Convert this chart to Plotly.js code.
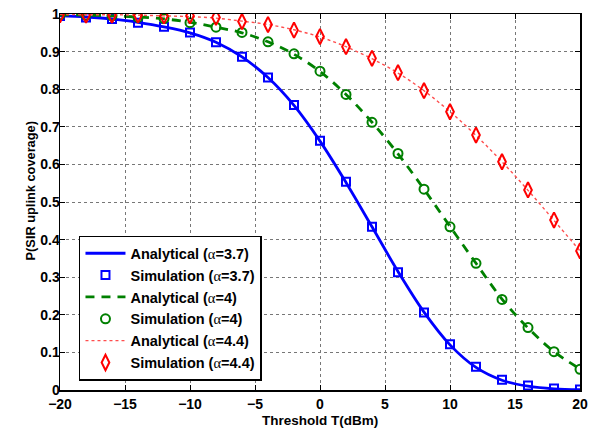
<!DOCTYPE html>
<html>
<head>
<meta charset="utf-8">
<script src="https://cdn.plot.ly/plotly-3.0.1.min.js"></script>
<style>
  html, body { margin: 0; padding: 0; background: #fff; }
  #chart { width: 592px; height: 434px; }
</style>
</head>
<body>
<div id="chart"></div>
<script>
// Threshold values (dBm)
const threshold = [-20, -18, -16, -14, -12, -10, -8, -6, -4, -2, 0, 2, 4, 6, 8, 10, 12, 14, 16, 18, 20];

// Coverage probability, path-loss exponent 3.7
const analytic37 = [0.995, 0.992, 0.987, 0.978, 0.966, 0.950, 0.925, 0.886, 0.831, 0.757, 0.662, 0.552, 0.434, 0.315, 0.207, 0.120, 0.060, 0.026, 0.010, 0.003, 0.001];
const sim37      = [0.995, 0.991, 0.987, 0.977, 0.966, 0.951, 0.925, 0.886, 0.831, 0.758, 0.663, 0.554, 0.434, 0.313, 0.206, 0.122, 0.062, 0.027, 0.012, 0.004, 0.001];

// Coverage probability, path-loss exponent 4
const analytic4 = [0.998, 0.997, 0.995, 0.992, 0.987, 0.978, 0.965, 0.950, 0.926, 0.893, 0.847, 0.786, 0.712, 0.628, 0.534, 0.435, 0.337, 0.242, 0.165, 0.102, 0.056];
const sim4      = [0.998, 0.997, 0.995, 0.991, 0.988, 0.977, 0.965, 0.951, 0.926, 0.894, 0.848, 0.786, 0.712, 0.629, 0.534, 0.434, 0.337, 0.241, 0.166, 0.102, 0.055];

// Coverage probability, path-loss exponent 4.4
const analytic44 = [0.999, 0.998, 0.998, 0.997, 0.995, 0.993, 0.989, 0.981, 0.972, 0.958, 0.939, 0.913, 0.881, 0.843, 0.796, 0.740, 0.677, 0.607, 0.531, 0.451, 0.370];
const sim44      = [0.998, 0.997, 0.997, 0.997, 0.995, 0.995, 0.991, 0.980, 0.972, 0.957, 0.940, 0.913, 0.882, 0.844, 0.796, 0.740, 0.678, 0.607, 0.532, 0.452, 0.370];

// Legend labels; the Greek alpha is set in a serif face
const alpha = '<span style="font-family:\'Liberation Serif\',serif;font-weight:normal">α</span>';
const labels = [
  'Analytical (' + alpha + '=3.7)', 'Simulation (' + alpha + '=3.7)',
  'Analytical (' + alpha + '=4)',   'Simulation (' + alpha + '=4)',
  'Analytical (' + alpha + '=4.4)', 'Simulation (' + alpha + '=4.4)'
];

const traces = [
  { x: threshold, y: analytic37, mode: 'lines', name: labels[0],
    line: { color: '#0000ff', width: 2.8, shape: 'spline' } },
  { x: threshold, y: sim37, mode: 'markers', name: labels[1],
    marker: { symbol: 'square-open', size: 8, color: '#0000ff', line: { width: 2, color: '#0000ff' } } },
  { x: threshold, y: analytic4, mode: 'lines', name: labels[2],
    line: { color: '#008000', width: 2.8, dash: '9px,7px', shape: 'spline' } },
  { x: threshold, y: sim4, mode: 'markers', name: labels[3],
    marker: { symbol: 'circle-open', size: 9, color: '#008000', line: { width: 2, color: '#008000' } } },
  { x: threshold, y: analytic44, mode: 'lines', name: labels[4],
    line: { color: '#ff4d4d', width: 1.4, dash: 'dot', shape: 'spline' } },
  { x: threshold, y: sim44, mode: 'markers', name: labels[5],
    marker: { symbol: 'diamond-tall-open', size: 11, color: '#ff0000', line: { width: 2, color: '#ff0000' } } }
];

const family = 'Liberation Sans, Arial, Helvetica, sans-serif';
const tickFont = { family: family, size: 14, color: '#000', weight: 700 };
const titleFont = { family: family, size: 13, color: '#000', weight: 700 };

const layout = {
  width: 592, height: 434,
  margin: { l: 60, r: 12, t: 14, b: 44 },
  paper_bgcolor: '#fff', plot_bgcolor: '#fff',
  showlegend: true,
  font: tickFont,
  xaxis: {
    range: [-20, 20], dtick: 5, tick0: -20,
    ticks: 'inside', ticklen: 5, tickwidth: 1, tickcolor: '#000',
    showline: true, linecolor: '#000', linewidth: 1.5, mirror: 'allticks',
    showgrid: true, gridcolor: '#777', griddash: 'dot', gridwidth: 1,
    zeroline: false,
    tickfont: tickFont, ticklabelstandoff: 1
  },
  yaxis: {
    range: [0, 1], dtick: 0.1, tick0: 0,
    ticks: 'inside', ticklen: 5, tickwidth: 1, tickcolor: '#000',
    showline: true, linecolor: '#000', linewidth: 1.5, mirror: 'allticks',
    showgrid: true, gridcolor: '#777', griddash: 'dot', gridwidth: 1,
    zeroline: false,
    tickfont: tickFont, ticklabelstandoff: -4
  },
  annotations: [
    {
      text: 'P(SIR uplink coverage)', textangle: -90,
      xref: 'paper', yref: 'paper', x: -0.057, y: 0.529,
      xanchor: 'center', yanchor: 'middle', showarrow: false,
      font: { ...titleFont, size: 12.8 }
    },
    {
      text: 'Threshold T(dBm)',
      xref: 'paper', yref: 'paper', x: 0.5, y: -0.0805,
      xanchor: 'center', yanchor: 'middle', showarrow: false,
      font: { ...titleFont, size: 13.5 }
    }
  ],
  legend: {
    x: 0.0365, y: 0.41, xanchor: 'left', yanchor: 'top',
    bgcolor: '#fff', bordercolor: '#000', borderwidth: 1.5,
    font: { family: family, size: 14.5, color: '#000', weight: 700 },
    tracegroupgap: 0, itemwidth: 40
  }
};

Plotly.newPlot('chart', traces, layout, { displayModeBar: false, staticPlot: true });
</script>
</body>
</html>
